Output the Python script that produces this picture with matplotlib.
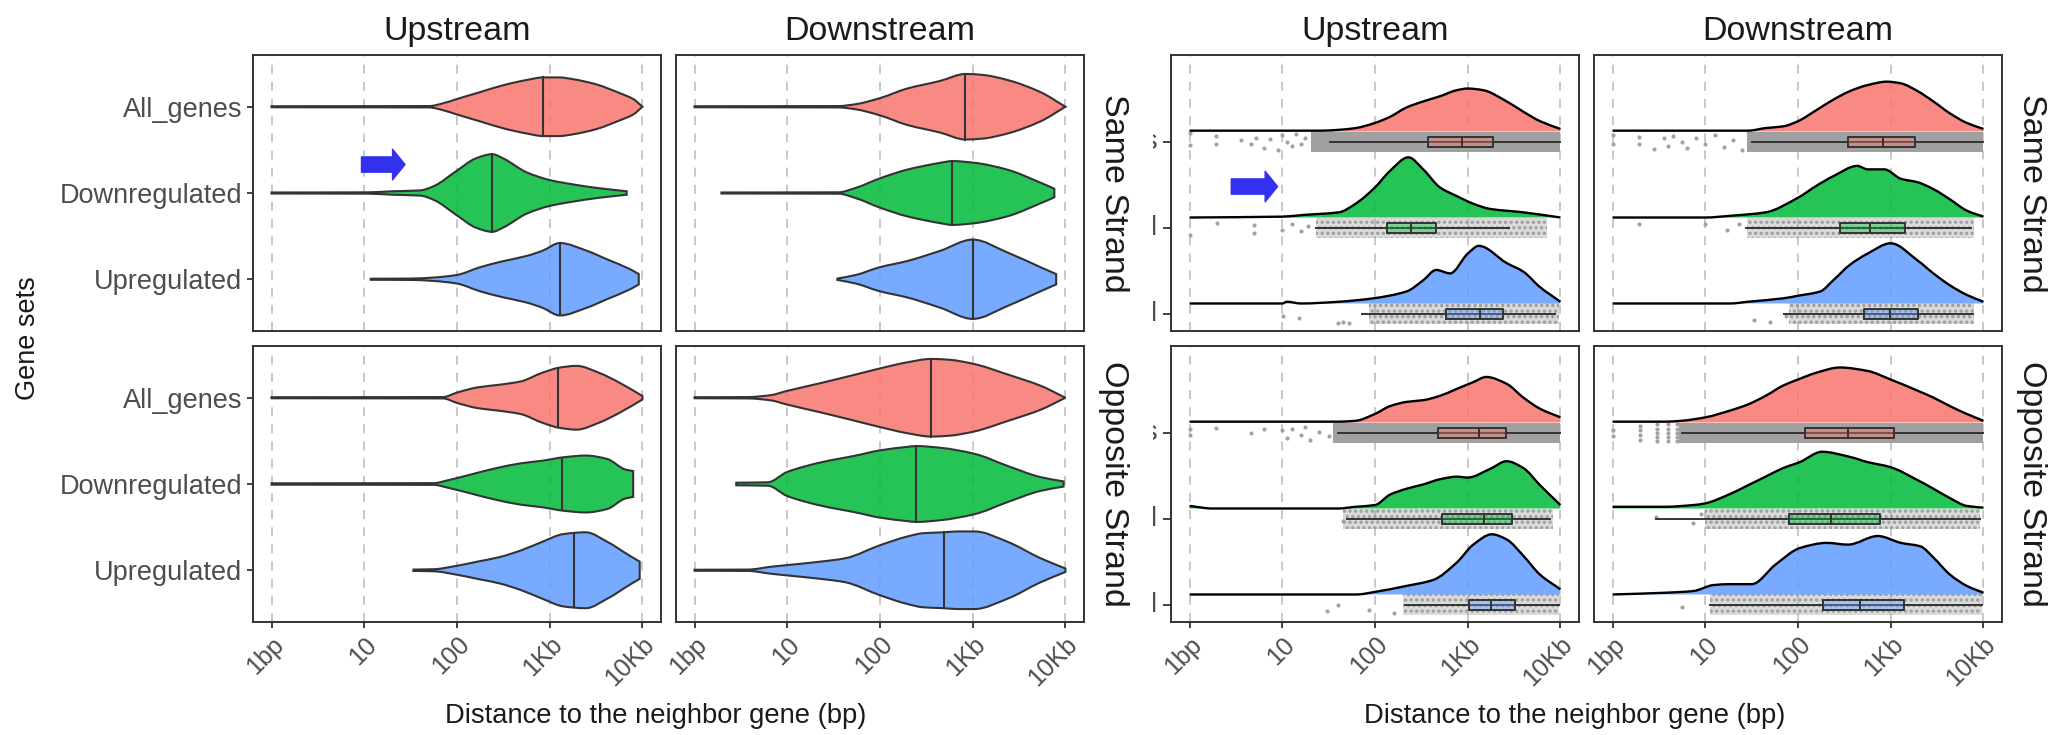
import numpy as np
import matplotlib
matplotlib.use("Agg")
import matplotlib.pyplot as plt
from matplotlib.ticker import NullLocator
from matplotlib.transforms import Bbox, TransformedBbox
from matplotlib.path import Path
from matplotlib.patches import PathPatch

plt.rcParams["font.family"] = ["Liberation Sans", "DejaVu Sans"]
plt.rcParams["hatch.color"] = "#9C9C9C"
plt.rcParams["hatch.linewidth"] = 1.6

W, H = 2054, 735

genes = ["All_genes", "Downregulated", "Upregulated"]
gene_pos = [3, 2, 1]
gene_colors = ["#F8766D", "#00BA38", "#619CFF"]
directions = ["Upstream", "Downstream"]
strands = ["Same Strand", "Opposite Strand"]
xticks_bp = [1, 10, 100, 1000, 10000]
xtick_labels = ["1bp", "10", "100", "1Kb", "10Kb"]
x_title = "Distance to the neighbor gene (bp)"
y_title = "Gene sets"

# ---- left block: violins, log10(distance) and half width (category units)
# order inside each list: All_genes, Downregulated, Upregulated
same_up_vx = [[0, 1.7, 1.85, 2.0, 2.25, 2.5, 2.75, 2.93, 3.1, 3.25, 3.5, 3.75, 3.9, 4.0],
              [0, 1.05, 1.3, 1.6, 1.75, 2.0, 2.2, 2.38, 2.5, 2.75, 3.0, 3.25, 3.5, 3.7, 3.83],
              [1.07, 1.5, 1.75, 2.0, 2.25, 2.5, 2.75, 2.92, 3.11, 3.4, 3.62, 3.86, 3.96]]
same_up_vw = [[0.006, 0.008, 0.04, 0.09, 0.17, 0.25, 0.31, 0.34, 0.34, 0.32, 0.26, 0.16, 0.09, 0.0],
              [0.006, 0.008, 0.02, 0.03, 0.08, 0.26, 0.40, 0.45, 0.40, 0.24, 0.15, 0.10, 0.06, 0.035, 0.02],
              [0.006, 0.008, 0.02, 0.05, 0.14, 0.21, 0.27, 0.33, 0.42, 0.33, 0.23, 0.12, 0.06]]
same_up_med = [2.93, 2.38, 3.11]

same_down_vx = [[0, 1.55, 1.74, 2.0, 2.29, 2.65, 2.92, 3.1, 3.375, 3.73, 4.0],
                [0.29, 1.55, 1.74, 2.0, 2.29, 2.65, 2.78, 3.02, 3.375, 3.73, 3.88],
                [1.54, 1.74, 2.0, 2.29, 2.65, 3.0, 3.375, 3.73, 3.9]]
same_down_vw = [[0.006, 0.008, 0.03, 0.10, 0.21, 0.30, 0.38, 0.37, 0.31, 0.17, 0.0],
                [0.006, 0.008, 0.06, 0.17, 0.27, 0.35, 0.37, 0.35, 0.27, 0.12, 0.05],
                [0.008, 0.05, 0.14, 0.21, 0.33, 0.46, 0.31, 0.14, 0.06]]
same_down_med = [2.92, 2.78, 3.0]

opp_up_vx = [[0, 1.85, 2.0, 2.22, 2.45, 2.69, 2.92, 3.11, 3.29, 3.53, 3.76, 4.0],
             [0, 1.75, 1.89, 2.22, 2.45, 2.69, 2.92, 3.15, 3.39, 3.62, 3.81, 3.9],
             [1.53, 1.75, 1.99, 2.22, 2.45, 2.69, 2.92, 3.15, 3.39, 3.62, 3.86, 3.97]]
opp_up_vw = [[0.006, 0.008, 0.06, 0.12, 0.15, 0.19, 0.29, 0.35, 0.37, 0.29, 0.17, 0.02],
             [0.008, 0.01, 0.04, 0.13, 0.19, 0.24, 0.27, 0.31, 0.33, 0.29, 0.17, 0.15],
             [0.008, 0.012, 0.05, 0.10, 0.15, 0.23, 0.33, 0.42, 0.44, 0.33, 0.17, 0.10]]
opp_up_med = [3.09, 3.13, 3.26]

opp_down_vx = [[0, 0.58, 0.82, 1.0, 1.36, 1.74, 2.0, 2.29, 2.55, 2.75, 3.02, 3.375, 3.73, 4.0],
               [0.45, 0.79, 1.0, 1.36, 1.74, 2.0, 2.29, 2.39, 2.65, 3.02, 3.375, 3.73, 3.98],
               [0, 0.58, 0.82, 1.0, 1.36, 1.63, 2.0, 2.29, 2.47, 2.69, 2.84, 3.02, 3.375, 3.73, 4.0]]
opp_down_vw = [[0.006, 0.008, 0.03, 0.08, 0.17, 0.27, 0.34, 0.41, 0.45, 0.44, 0.39, 0.27, 0.14, 0.0],
               [0.015, 0.02, 0.14, 0.25, 0.33, 0.39, 0.43, 0.44, 0.42, 0.35, 0.21, 0.08, 0.03],
               [0.006, 0.008, 0.04, 0.06, 0.10, 0.14, 0.29, 0.39, 0.43, 0.44, 0.45, 0.45, 0.33, 0.14, 0.02]]
opp_down_med = [2.55, 2.39, 2.69]

# ---- right block: density ridges, log10(distance) and height (category units)
same_up_rx = [[0, 1.42, 1.61, 1.79, 2.0, 2.16, 2.34, 2.52, 2.70, 2.88, 3.0, 3.17, 3.42, 3.6, 3.78, 4.0],
              [0, 1.0, 1.23, 1.61, 1.79, 2.0, 2.16, 2.36, 2.52, 2.70, 2.88, 3.06, 3.24, 3.6, 4.0],
              [0, 1.0, 1.05, 1.2, 1.61, 1.98, 2.34, 2.52, 2.66, 2.81, 3.0, 3.12, 3.42, 3.6, 3.78, 4.0]]
same_up_rh = [[0.01, 0.01, 0.02, 0.04, 0.10, 0.17, 0.28, 0.35, 0.41, 0.48, 0.50, 0.48, 0.35, 0.23, 0.12, 0.03],
              [0.0, 0.01, 0.03, 0.06, 0.16, 0.35, 0.54, 0.70, 0.56, 0.35, 0.25, 0.16, 0.10, 0.06, 0.0],
              [0.0, 0.0, 0.02, 0.0, 0.02, 0.06, 0.14, 0.27, 0.39, 0.35, 0.58, 0.67, 0.47, 0.37, 0.19, 0.02]]
same_down_rx = [[0, 1.46, 1.65, 1.84, 2.0, 2.2, 2.38, 2.56, 2.75, 2.96, 3.11, 3.29, 3.46, 3.64, 3.82, 4.0],
                [0, 1.0, 1.27, 1.65, 2.0, 2.2, 2.38, 2.64, 2.75, 2.93, 3.11, 3.29, 3.46, 3.64, 3.82, 4.0],
                [0, 1.27, 1.46, 1.84, 2.0, 2.24, 2.38, 2.56, 2.75, 3.0, 3.29, 3.46, 3.64, 3.82, 4.0]]
same_down_rh = [[0.01, 0.01, 0.04, 0.06, 0.12, 0.25, 0.37, 0.47, 0.54, 0.58, 0.56, 0.47, 0.35, 0.21, 0.10, 0.03],
                [0.0, 0.0, 0.02, 0.06, 0.23, 0.37, 0.48, 0.60, 0.56, 0.56, 0.45, 0.41, 0.33, 0.21, 0.08, 0.01],
                [0.0, 0.0, 0.02, 0.06, 0.09, 0.14, 0.27, 0.45, 0.58, 0.70, 0.50, 0.35, 0.21, 0.10, 0.02]]
opp_up_rx = [[0, 1.6, 1.79, 2.0, 2.16, 2.34, 2.52, 2.70, 2.88, 3.06, 3.2, 3.42, 3.6, 3.78, 4.0],
             [0, 0.25, 1.6, 1.79, 2.0, 2.16, 2.34, 2.52, 2.70, 2.88, 3.0, 3.24, 3.42, 3.6, 3.78, 4.0],
             [0, 1.8, 2.0, 2.34, 2.63, 2.88, 3.06, 3.26, 3.42, 3.6, 3.78, 4.0]]
opp_up_rh = [[0.01, 0.01, 0.02, 0.10, 0.19, 0.24, 0.26, 0.31, 0.39, 0.47, 0.53, 0.45, 0.29, 0.16, 0.06],
             [0.03, 0.0, 0.0, 0.02, 0.04, 0.16, 0.23, 0.28, 0.34, 0.37, 0.36, 0.46, 0.55, 0.47, 0.27, 0.04],
             [0.0, 0.0, 0.03, 0.10, 0.17, 0.37, 0.58, 0.70, 0.64, 0.45, 0.23, 0.06]]
opp_down_rx = [[0, 0.56, 0.74, 1.0, 1.27, 1.46, 1.65, 1.84, 2.0, 2.2, 2.45, 2.75, 3.0, 3.29, 3.46, 3.64, 3.82, 4.0],
               [0, 0.56, 0.87, 1.0, 1.27, 1.46, 1.65, 1.84, 2.02, 2.26, 2.56, 2.75, 3.0, 3.29, 3.46, 3.64, 3.82, 4.0],
               [0, 0.56, 0.87, 1.09, 1.27, 1.5, 1.76, 2.02, 2.31, 2.54, 2.86, 3.11, 3.32, 3.46, 3.64, 3.82, 4.0]]
opp_down_rh = [[0.01, 0.01, 0.02, 0.06, 0.14, 0.21, 0.31, 0.43, 0.50, 0.58, 0.64, 0.60, 0.50, 0.37, 0.29, 0.19, 0.10, 0.02],
               [0.02, 0.02, 0.04, 0.06, 0.17, 0.27, 0.37, 0.47, 0.54, 0.66, 0.60, 0.54, 0.48, 0.33, 0.23, 0.12, 0.03, 0.01],
               [0.0, 0.02, 0.04, 0.11, 0.12, 0.12, 0.35, 0.54, 0.60, 0.58, 0.68, 0.60, 0.56, 0.43, 0.23, 0.10, 0.02]]

# boxplots: lower whisker, q1, median, q3, upper whisker (log10)
same_up_box = [[1.52, 2.57, 2.94, 3.27, 4.0], [1.36, 2.13, 2.39, 2.66, 3.44], [1.86, 2.77, 3.13, 3.375, 3.94]]
same_down_box = [[1.5, 2.54, 2.92, 3.26, 4.0], [1.44, 2.45, 2.78, 3.15, 3.87], [1.85, 2.71, 2.99, 3.29, 3.89]]
opp_up_box = [[1.6, 2.68, 3.12, 3.41, 4.0], [1.7, 2.72, 3.18, 3.475, 3.89], [2.32, 3.01, 3.25, 3.51, 3.98]]
opp_down_box = [[0.75, 2.08, 2.54, 3.03, 4.0], [0.47, 1.90, 2.36, 2.88, 3.96], [1.05, 2.27, 2.67, 3.14, 3.98]]

# raw points: dense stretch (log10 from, to) and the sparse points left of it
same_up_band = [(1.31, 4.0), (1.36, 3.85), (1.93, 3.98)]
same_down_band = [(1.45, 4.0), (1.45, 3.9), (1.9, 3.9)]
opp_up_band = [(1.55, 4.0), (1.65, 3.92), (2.3, 3.98)]
opp_down_band = [(0.72, 4.0), (1.0, 3.96), (1.05, 3.98)]

same_up_px = [[0, 0, 0.28, 0.28, 0.56, 0.66, 0.72, 0.80, 0.87, 0.95, 1.00, 1.05, 1.10, 1.15, 1.20, 1.25],
              [0, 0.30, 0.70, 0.70, 1.00, 1.10, 1.20, 1.28],
              [1.01, 1.18, 1.60, 1.65, 1.72]]
same_up_py = [[0.10, -0.04, 0.07, -0.03, 0.02, -0.02, 0.05, -0.07, 0.03, -0.09, 0.08, 0.00, -0.05, 0.09, -0.02, 0.05],
              [-0.08, 0.06, 0.03, -0.06, -0.02, 0.05, -0.04, 0.02],
              [-0.02, -0.05, -0.11, -0.10, -0.11]]
same_down_px = [[0, 0, 0.29, 0.29, 0.45, 0.55, 0.60, 0.65, 0.75, 0.80, 0.90, 1.00, 1.10, 1.20, 1.30, 1.40],
                [0.29, 1.00, 1.23, 1.36],
                [1.53, 1.70, 1.87]]
same_down_py = [[0.08, -0.03, 0.06, -0.02, -0.08, 0.04, -0.05, 0.07, 0.00, -0.07, 0.05, -0.03, 0.08, -0.06, 0.02, -0.09],
                [0.05, 0.05, -0.03, 0.05],
                [-0.07, -0.09, -0.02]]
opp_up_px = [[0, 0, 0.29, 0.66, 0.80, 1.00, 1.05, 1.10, 1.20, 1.25, 1.30, 1.40, 1.50],
             [1.65],
             [1.48, 1.60, 1.93, 2.20]]
opp_up_py = [[0.04, -0.03, 0.06, 0.00, 0.04, 0.03, -0.06, 0.05, -0.02, 0.07, -0.08, 0.01, -0.04],
             [-0.03],
             [-0.07, 0.00, -0.06, -0.09]]
opp_down_px = [[0, 0, 0.301, 0.301, 0.301, 0.301, 0.477, 0.477, 0.477, 0.477, 0.477,
                0.602, 0.602, 0.602, 0.602, 0.602, 0.699, 0.699, 0.699, 0.699, 0.699],
               [0.47, 0.87, 0.95],
               [0.75]]
opp_down_py = [[0.03, -0.04, 0.08, 0.03, -0.03, -0.08, 0.10, 0.05, 0.0, -0.05, -0.10,
                0.10, 0.05, 0.0, -0.05, -0.10, 0.10, 0.05, 0.0, -0.05, -0.10],
               [0.02, -0.05, 0.06],
               [-0.02]]

# blue arrows (log10 start, log10 end, category position)
left_arrow = (0.97, 1.44, 2.33)
right_arrow = (0.45, 0.95, 2.48)

left_cols = [(253, 661), (676, 1084)]
right_cols = [(1171, 1579), (1594, 2002)]
rows = [(55, 331), (346, 622)]

TEXT_GRAY = "#4D4D4D"
LINE = "#333333"


def add_panel(fig, xs, ys):
    x0, x1 = xs
    y0, y1 = ys
    return fig.add_axes([x0 / W, 1 - y1 / H, (x1 - x0) / W, (y1 - y0) / H])


def smooth_curve(xl, y):
    # cubic pieces through the read points (x in log10), slopes kept monotone
    xl = np.asarray(xl, float)
    y = np.asarray(y, float)
    n = len(xl)
    dx = np.diff(xl)
    d = np.diff(y) / dx
    m = np.zeros(n)
    m[0], m[-1] = d[0], d[-1]
    for i in range(1, n - 1):
        if d[i - 1] * d[i] > 0:
            m[i] = 2.0 / (1.0 / d[i - 1] + 1.0 / d[i])
    verts = [(xl[0], y[0])]
    for i in range(n - 1):
        h = dx[i] / 3.0
        verts.append((xl[i] + h, y[i] + m[i] * h))
        verts.append((xl[i + 1] - h, y[i + 1] - m[i + 1] * h))
        verts.append((xl[i + 1], y[i + 1]))
    verts = np.array(verts)
    verts[:, 0] = 10 ** verts[:, 0]
    return verts


def curve_codes(verts):
    return [Path.MOVETO] + [Path.CURVE4] * (len(verts) - 1)


def style_axis(ax, ylim, bottom, ylabels):
    ax.set_xscale("log")
    ax.set_xlim(10 ** -0.2, 10 ** 4.2)
    ax.set_ylim(*ylim)
    ax.set_xticks(xticks_bp)
    ax.xaxis.set_minor_locator(NullLocator())
    ax.grid(axis="x", color="#C4C4C4", linestyle=(0, (5, 4.5)), linewidth=1.3)
    ax.set_axisbelow(True)
    for sp in ax.spines.values():
        sp.set_color(LINE)
        sp.set_linewidth(1.4)
    ax.set_yticks(gene_pos)
    if bottom:
        ax.set_xticklabels(xtick_labels, rotation=45, ha="right", va="top",
                           rotation_mode="anchor", fontsize=18, color=TEXT_GRAY)
        ax.tick_params(axis="x", length=4.5, width=1.3, color=LINE, pad=3)
    else:
        ax.tick_params(axis="x", length=0, labelbottom=False)
    if ylabels == "left":
        ax.set_yticklabels(genes, fontsize=19.5, color=TEXT_GRAY)
        ax.tick_params(axis="y", length=4.5, width=1.3, color=LINE, pad=3)
    elif ylabels == "ticks":
        ax.set_yticklabels([])
        ax.tick_params(axis="y", length=5.5, width=1.3, color=LINE)
    else:
        ax.tick_params(axis="y", length=0, labelleft=False)


def draw_violins(ax, vx, vw, med):
    for i in range(3):
        x = np.array(vx[i])
        w = np.array(vw[i])
        y = gene_pos[i]
        top = smooth_curve(x, y + w)
        bot = smooth_curve(x, y - w)[::-1]
        verts = np.vstack([top, bot, top[:1]])
        codes = curve_codes(top) + [Path.LINETO] + [Path.CURVE4] * (len(bot) - 1) + [Path.CLOSEPOLY]
        path = Path(verts, codes)
        ax.add_patch(PathPatch(path, facecolor=gene_colors[i], alpha=0.85, edgecolor="none", zorder=2))
        ax.add_patch(PathPatch(path, facecolor="none", edgecolor=LINE, linewidth=1.5, zorder=3))
        wm = np.interp(med[i], x, w)
        ax.plot([10 ** med[i]] * 2, [y - wm, y + wm], color=LINE, linewidth=1.5, zorder=4)


def draw_ridges(ax, rx, rh, box, band, px, py):
    jit = 0.12
    for i in range(3):
        y = gene_pos[i]
        base = y + jit
        # raw points
        b0, b1 = band[i]
        if i == 0:
            ax.fill_between([10 ** b0, 10 ** b1], y - jit, y + jit, color="#A0A0A0",
                            linewidth=0, zorder=2)
        else:
            ax.fill_between([10 ** b0, 10 ** b1], y - jit, y + jit, facecolor=(0.6, 0.6, 0.6, 0.35),
                            edgecolor="#9C9C9C", hatch="...", linewidth=0, zorder=2)
        ax.scatter(10 ** np.array(px[i]), y + np.array(py[i]), s=9, color="#A3A3A3",
                   linewidths=0, zorder=2)
        # density
        top = smooth_curve(rx[i], base + np.array(rh[i]))
        x0, x1 = top[0, 0], top[-1, 0]
        verts = np.vstack([top, [(x1, base), (x0, base), (x0, base)]])
        codes = curve_codes(top) + [Path.LINETO, Path.LINETO, Path.CLOSEPOLY]
        ax.add_patch(PathPatch(Path(verts, codes), facecolor=gene_colors[i], alpha=0.85,
                               edgecolor="none", zorder=3))
        ax.add_patch(PathPatch(Path(top, curve_codes(top)), facecolor="none",
                               edgecolor="black", linewidth=1.7, zorder=4))
        # boxplot
        lo, q1, md, q3, hi = box[i]
        ax.plot([10 ** lo, 10 ** hi], [y, y], color=LINE, linewidth=1.4, zorder=5)
        bh = 0.055
        ax.fill_between([10 ** q1, 10 ** q3], y - bh, y + bh, facecolor=gene_colors[i],
                        alpha=0.4, linewidth=0, zorder=5)
        ax.plot([10 ** q1, 10 ** q3, 10 ** q3, 10 ** q1, 10 ** q1],
                [y - bh, y - bh, y + bh, y + bh, y - bh], color=LINE, linewidth=1.4, zorder=6)
        ax.plot([10 ** md] * 2, [y - bh, y + bh], color=LINE, linewidth=1.4, zorder=6)


def draw_arrow(ax, arrow):
    x0, x1, y = arrow
    ax.annotate("", xy=(10 ** x1, y), xytext=(10 ** x0, y),
                arrowprops=dict(arrowstyle="simple,head_length=9,head_width=22,tail_width=11",
                                mutation_scale=1, color="#3232EE", shrinkA=0, shrinkB=0),
                zorder=7)


def main():
    fig = plt.figure(figsize=(W / 100, H / 100), dpi=100)

    violin_data = [[(same_up_vx, same_up_vw, same_up_med), (same_down_vx, same_down_vw, same_down_med)],
                   [(opp_up_vx, opp_up_vw, opp_up_med), (opp_down_vx, opp_down_vw, opp_down_med)]]
    ridge_data = [[(same_up_rx, same_up_rh, same_up_box, same_up_band, same_up_px, same_up_py),
                   (same_down_rx, same_down_rh, same_down_box, same_down_band, same_down_px, same_down_py)],
                  [(opp_up_rx, opp_up_rh, opp_up_box, opp_up_band, opp_up_px, opp_up_py),
                   (opp_down_rx, opp_down_rh, opp_down_box, opp_down_band, opp_down_px, opp_down_py)]]

    for r in range(2):
        for c in range(2):
            # left block
            ax = add_panel(fig, left_cols[c], rows[r])
            style_axis(ax, (0.4, 3.6), r == 1, "left" if c == 0 else None)
            draw_violins(ax, *violin_data[r][c])
            if r == 0 and c == 0:
                draw_arrow(ax, left_arrow)
            if r == 0:
                ax.set_title(directions[c], fontsize=24.5, pad=11, color="#1A1A1A")
            if c == 1:
                ax.text(1.034, 0.5, strands[r], transform=ax.transAxes, rotation=-90,
                        ha="left", va="center", fontsize=24.5, color="#1A1A1A")

            # right block
            ax = add_panel(fig, right_cols[c], rows[r])
            style_axis(ax, (0.8, 4.01), r == 1, "ticks" if c == 0 else None)
            draw_ridges(ax, *ridge_data[r][c])
            if r == 0 and c == 0:
                draw_arrow(ax, right_arrow)
            if r == 0:
                ax.set_title(directions[c], fontsize=24.5, pad=11, color="#1A1A1A")
            if c == 1:
                ax.text(1.034, 0.5, strands[r], transform=ax.transAxes, rotation=-90,
                        ha="left", va="center", fontsize=24.5, color="#1A1A1A")
            if c == 0:
                # y labels of this block are cut off, only their last pixels show
                clip = TransformedBbox(Bbox.from_extents(1153 / W, 0, 1160 / W, 1), fig.transFigure)
                for g, yp in zip(genes, gene_pos):
                    t = ax.text(-0.034, yp, g[-1], transform=ax.get_yaxis_transform(),
                                ha="right", va="center", fontsize=19.5, color=TEXT_GRAY)
                    t.set_clip_box(clip)
                    t.set_clip_on(True)

    fig.text(656 / W, 1 - 716 / H, x_title, ha="center", va="center", fontsize=19.7, color="#1A1A1A")
    fig.text(1575 / W, 1 - 716 / H, x_title, ha="center", va="center", fontsize=19.7, color="#1A1A1A")
    fig.text(28 / W, 1 - 338 / H, y_title, ha="center", va="center", rotation=90,
             fontsize=19.5, color="#1A1A1A")

    fig.savefig("out.png", dpi=100, facecolor="white")


if __name__ == "__main__":
    main()
